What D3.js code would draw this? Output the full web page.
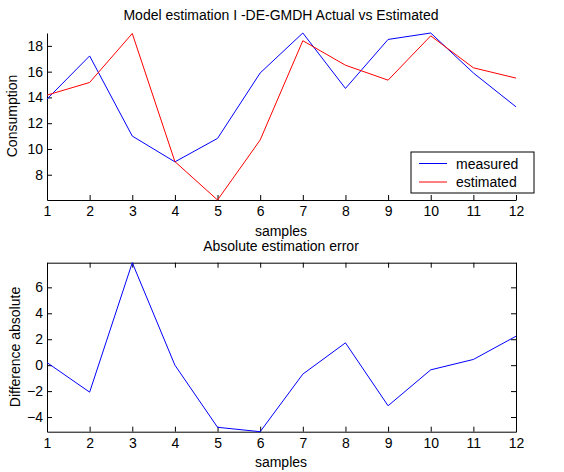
<!DOCTYPE html>
<html>
<head>
<meta charset="utf-8">
<script src="https://cdn.jsdelivr.net/npm/d3@7"></script>
<style>
  body { margin: 0; background: #fff; }
  text { font-family: "Liberation Sans", Arial, sans-serif; }
</style>
</head>
<body>
<script>
// values
var samples = [1, 2, 3, 4, 5, 6, 7, 8, 9, 10, 11, 12]
var measured = [13.87, 17.22, 11.0, 9.0, 10.82, 15.9, 19.0, 14.7, 18.5, 19.0, 15.9, 13.27]
var estimated = [14.18, 15.16, 18.96, 9.02, 6.04, 10.7, 18.4, 16.5, 15.34, 18.78, 16.3, 15.5]
var errorAbs = [0.2, -2.08, 7.9, 0.0, -4.79, -5.13, -0.69, 1.72, -3.13, -0.36, 0.44, 2.23]
var topTicks = [8, 10, 12, 14, 16, 18]
var bottomTicks = [-4, -2, 0, 2, 4, 6]
var legendNames = ["measured", "estimated"]

let svg = d3.select('body')
    .append('svg')
    .attr('width', 564)
    .attr('height', 472)

let left = 47, right = 516
let fs = '14px'

let x = d3.scaleLinear()
    .domain(d3.extent(samples))
    .range([left, right])

// ---- top plot ----
let yTop = d3.scaleLinear()
    .domain([d3.min(estimated.concat(measured)), d3.max(estimated.concat(measured))])
    .range([200, 33])

let line = (ys, scale) => d3.line()
    .x((d, i) => x(samples[i]))
    .y(d => scale(d))(ys)

let xAxisTop = d3.axisBottom(x).tickValues(samples).tickFormat(d3.format("d"))
    .tickSizeInner(-5).tickSizeOuter(0).tickPadding(6)
let yAxisTop = d3.axisLeft(yTop).tickValues(topTicks)
    .tickSizeInner(-5).tickSizeOuter(0).tickPadding(4)

function styleAxis(g) {
    g.select('.domain').attr('stroke', '#000')
    g.selectAll('line').attr('stroke', '#000')
    g.selectAll('text').attr('fill', '#000').style('font-size', fs)
        .style('font-family', '"Liberation Sans", Arial, sans-serif')
}

svg.append('g').attr('transform', 'translate(0,200)').call(xAxisTop).call(styleAxis)
svg.append('g').attr('transform', 'translate(' + left + ',0)').call(yAxisTop).call(styleAxis)

svg.append('path').attr('d', line(measured, yTop))
    .attr('fill', 'none').attr('stroke', '#0000ff').attr('stroke-width', 1)
svg.append('path').attr('d', line(estimated, yTop))
    .attr('fill', 'none').attr('stroke', '#ff0000').attr('stroke-width', 1)

svg.append('text').attr('x', 281).attr('y', 20).attr('text-anchor', 'middle')
    .style('font-size', fs).text('Model estimation I -DE-GMDH Actual vs Estimated')
svg.append('text').attr('x', 281).attr('y', 236).attr('text-anchor', 'middle')
    .style('font-size', fs).text('samples')
svg.append('text').attr('transform', 'translate(17,116) rotate(-90)').attr('text-anchor', 'middle')
    .style('font-size', fs).text('Consumption')

// legend
let legend = svg.append('g')
legend.append('rect').attr('x', 411).attr('y', 152).attr('width', 123).attr('height', 41)
    .attr('fill', '#fff').attr('stroke', '#000')
let colors = ['#0000ff', '#ff0000']
legendNames.forEach((name, i) => {
    let cy = 163.5 + i * 18.5
    legend.append('line').attr('x1', 419).attr('x2', 447).attr('y1', cy).attr('y2', cy)
        .attr('stroke', colors[i])
    legend.append('text').attr('x', 456).attr('y', cy + 5).style('font-size', fs).text(name)
})

// ---- bottom plot ----
let yBot = d3.scaleLinear()
    .domain(d3.extent(errorAbs))
    .range([431.7, 262.7])

let xAxisBot = d3.axisBottom(x).tickValues(samples).tickFormat(d3.format("d"))
    .tickSizeInner(-5).tickSizeOuter(0).tickPadding(6)
let yAxisBot = d3.axisLeft(yBot).tickValues(bottomTicks)
    .tickSizeInner(-5).tickSizeOuter(0).tickPadding(4)

svg.append('g').attr('transform', 'translate(0,431.7)').call(xAxisBot).call(styleAxis)
svg.append('g').attr('transform', 'translate(' + left + ',0)').call(yAxisBot).call(styleAxis)
svg.append('g').attr('transform', 'translate(0,262.7)')
    .call(d3.axisTop(x).tickValues(samples).tickFormat('').tickSizeInner(-5).tickSizeOuter(0))
    .call(styleAxis)
svg.append('g').attr('transform', 'translate(' + right + ',0)')
    .call(d3.axisRight(yBot).tickValues(bottomTicks).tickFormat('').tickSizeInner(-5).tickSizeOuter(0))
    .call(styleAxis)

svg.append('path').attr('d', line(errorAbs, yBot))
    .attr('fill', 'none').attr('stroke', '#0000ff').attr('stroke-width', 1)

svg.append('text').attr('x', 281).attr('y', 251).attr('text-anchor', 'middle')
    .style('font-size', fs).text('Absolute estimation error')
svg.append('text').attr('x', 281).attr('y', 467).attr('text-anchor', 'middle')
    .style('font-size', fs).text('samples')
svg.append('text').attr('transform', 'translate(20,347) rotate(-90)').attr('text-anchor', 'middle')
    .style('font-size', fs).text('Difference absolute')
</script>
</body>
</html>
